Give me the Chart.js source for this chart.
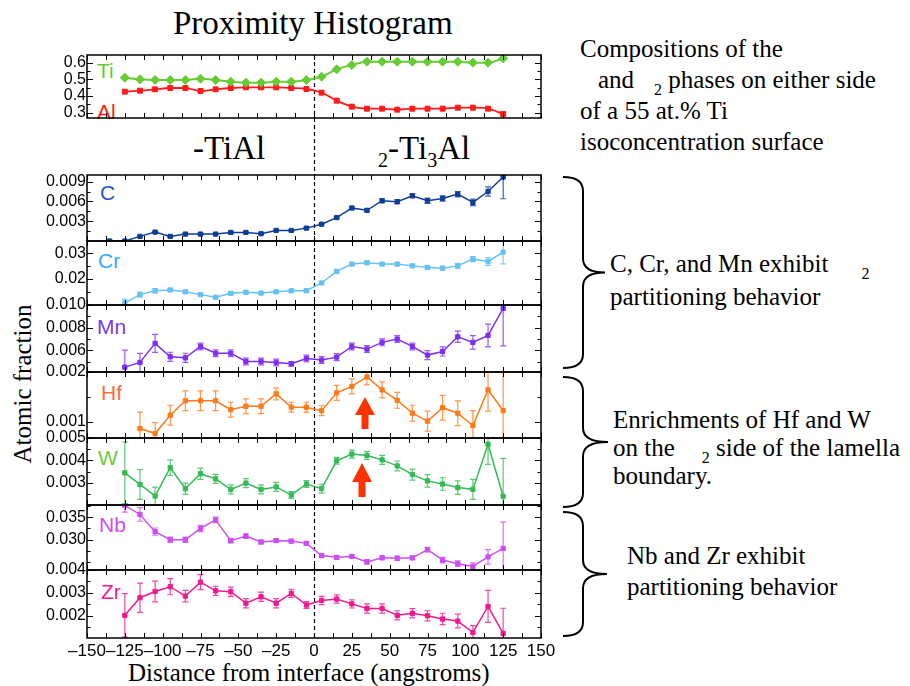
<!DOCTYPE html>
<html>
<head>
<meta charset="utf-8">
<script src="https://cdn.jsdelivr.net/npm/chart.js@4.4.1/dist/chart.umd.min.js"></script>
<style>
body { margin: 0; background: #fff; }
#wrap { position: relative; width: 910px; height: 686px; overflow: hidden; font-family: "Liberation Serif", "Times New Roman", serif; color: #000; }
canvas { position: absolute; left: 0; }
.t { position: absolute; white-space: nowrap; line-height: 1; }
.el { position: absolute; font-family: "Liberation Sans", Arial, sans-serif; font-size: 21px; line-height: 1; }
.note { position: absolute; font-size: 25px; line-height: 1; white-space: nowrap; }
.note sub { font-size: 16px; vertical-align: -7px; line-height: 0; }
.gap { display: inline-block; }
svg { position: absolute; left: 0; top: 0; }
</style>
</head>
<body>
<div id="wrap">
  <div class="t" style="left:173px;top:7px;font-size:33px">Proximity Histogram</div>
  <div class="t" style="left:193px;top:132px;font-size:33px">-TiAl</div>
  <div class="t" style="left:378px;top:132px;font-size:33px"><sub style="font-size:20px;vertical-align:-8px;line-height:0">2</sub>-Ti<sub style="font-size:20px;vertical-align:-8px;line-height:0">3</sub>Al</div>
  <div class="t" style="left:128px;top:660px;font-size:25px">Distance from interface (angstroms)</div>
  <div class="t" style="left:22px;top:384px;font-size:25px;transform:translate(-50%,-50%) rotate(-90deg)">Atomic fraction</div>

  <div class="el" style="left:97px;top:60px;color:#66cc33">Ti</div>
  <div class="el" style="left:97px;top:101px;color:#ff1a1a">Al</div>
  <div class="el" style="left:100px;top:182px;color:#1f55cc">C</div>
  <div class="el" style="left:98px;top:250px;color:#33a8f5">Cr</div>
  <div class="el" style="left:97px;top:316px;color:#7a3be6">Mn</div>
  <div class="el" style="left:101px;top:382px;color:#ff6a3d">Hf</div>
  <div class="el" style="left:98px;top:447px;color:#6ccc3c">W</div>
  <div class="el" style="left:99px;top:514px;color:#cc4ef2">Nb</div>
  <div class="el" style="left:101px;top:581px;color:#ef1a8f">Zr</div>

  <div class="note" style="left:580px;top:36px">Compositions of the</div>
  <div class="note" style="left:598px;top:67px">and<span class="gap" style="width:20px"></span><sub>2</sub> phases on either side</div>
  <div class="note" style="left:580px;top:98px">of a 55 at.% Ti</div>
  <div class="note" style="left:580px;top:129px">isoconcentration surface</div>
  <div class="note" style="left:610px;top:251px">C, Cr, and Mn exhibit<span class="gap" style="width:33px"></span><sub>2</sub></div>
  <div class="note" style="left:610px;top:284px">partitioning behavior</div>
  <div class="note" style="left:613px;top:407px">Enrichments of Hf and W</div>
  <div class="note" style="left:613px;top:435px">on the<span class="gap" style="width:27px"></span><sub>2</sub> side of the lamella</div>
  <div class="note" style="left:613px;top:463px">boundary.</div>
  <div class="note" style="left:627px;top:543px">Nb and Zr exhibit</div>
  <div class="note" style="left:627px;top:574px">partitioning behavior</div>

  <svg width="910" height="686">
    <g fill="none" stroke="#000" stroke-width="2">
      <path id="brace1"/>
      <path id="brace2"/>
      <path id="brace3"/>
    </g>
    <polygon fill="#ff3300" points="365,397 375,415 368.5,415 368.5,429 361.5,429 361.5,415 355,415"/>
    <polygon fill="#ff3300" points="362,463 372,482 365.5,482 365.5,497 358.5,497 358.5,482 352,482"/>
  </svg>
</div>

<script>
// distances of the histogram bins (angstroms)
const distances = [-125, -115, -105, -95, -85, -75, -65, -55, -45, -35, -25, -15, -5,
                   5, 15, 25, 35, 45, 55, 65, 75, 85, 95, 105, 115, 125];
const cDistances = [-135, ...distances];
const xTickStep = 25;

// series values (atomic fraction)
const tiValues = [0.51, 0.50, 0.496, 0.496, 0.496, 0.504, 0.496, 0.486, 0.48, 0.48, 0.486, 0.486, 0.496,
                  0.516, 0.56, 0.586, 0.606, 0.606, 0.606, 0.606, 0.606, 0.606, 0.606, 0.60, 0.60, 0.626];
const tiErr = [0, 0, 0, 0, 0, 0, 0, 0, 0, 0, 0, 0, 0, 0, 0, 0, 0, 0, 0, 0, 0, 0, 0, 0, 0, 0.008];
const alValues = [0.426, 0.432, 0.44, 0.448, 0.448, 0.43, 0.44, 0.448, 0.452, 0.452, 0.452, 0.448, 0.442,
                  0.42, 0.372, 0.336, 0.324, 0.324, 0.318, 0.324, 0.324, 0.324, 0.33, 0.33, 0.324, 0.292];
const alErr = [0, 0, 0, 0, 0, 0, 0, 0, 0, 0, 0, 0, 0, 0, 0, 0, 0, 0, 0, 0, 0, 0, 0, 0, 0, 0.01];

const cValues = [0.0000, 0.0000, 0.0007, 0.00135, 0.0007, 0.00105, 0.00105, 0.00105, 0.0013, 0.0013, 0.0011,
                 0.0016, 0.0016, 0.00195, 0.00255, 0.00355, 0.005, 0.00465, 0.0061, 0.00595, 0.00685,
                 0.0061, 0.00645, 0.0071, 0.00585, 0.0075, 0.0097];
const cErr = [0, 0, 0.0001, 0.0001, 0.0001, 0.0001, 0.0001, 0.0001, 0.0001, 0.0001, 0.0001, 0.0001, 0.0001,
              0.0001, 0.0001, 0.00015, 0.0002, 0.0002, 0.0003, 0.0003, 0.0003, 0.0004, 0.0004, 0.0004,
              0.0005, 0.0007, 0.0033];

const crValues = [0.0108, 0.014, 0.0155, 0.0158, 0.0151, 0.014, 0.013, 0.0145, 0.0149, 0.0146, 0.0151, 0.0155,
                  0.0155, 0.0185, 0.023, 0.0258, 0.0263, 0.0258, 0.0258, 0.0251, 0.0245, 0.0242, 0.0251,
                  0.0277, 0.0268, 0.0304];
const crErr = [0.0015, 0.001, 0.0008, 0.0006, 0.0006, 0.0005, 0.0005, 0.0006, 0.0006, 0.0005, 0.0005, 0.0005,
               0.0005, 0.0005, 0.0005, 0.0005, 0.0005, 0.0006, 0.0006, 0.0006, 0.0007, 0.0007, 0.001, 0.001,
               0.0015, 0.0045];

const mnValues = [0.00453, 0.00494, 0.00662, 0.00544, 0.00535, 0.00635, 0.00576, 0.00576, 0.00503, 0.00503,
                  0.00494, 0.00482, 0.00529, 0.00515, 0.00541, 0.00635, 0.00612, 0.00671, 0.007, 0.00635,
                  0.00559, 0.00591, 0.0072, 0.00671, 0.00732, 0.0097];
const mnErr = [0.0015, 0.0008, 0.0008, 0.0004, 0.0004, 0.0003, 0.0003, 0.0003, 0.0003, 0.0003, 0.0003, 0.0002,
               0.0003, 0.0003, 0.0003, 0.0003, 0.0003, 0.0003, 0.0003, 0.0003, 0.0004, 0.0004, 0.0005,
               0.0006, 0.001, 0.0033];

const hfValues = [null, 0.00086, 0.00076, 0.00113, 0.00142, 0.00142, 0.00142, 0.00124, 0.00131, 0.00131,
                  0.00156, 0.00129, 0.00129, 0.00122, 0.00158, 0.00171, 0.0019, 0.00164, 0.00143, 0.00117,
                  0.00101, 0.00128, 0.00117, 0.00092, 0.00164, 0.00122];
const hfErr = [null, 0.00033, 0.00022, 0.0002, 0.0002, 0.0002, 0.0002, 0.00015, 0.00015, 0.00015, 0.00012,
               0.0001, 0.0001, 0.0001, 0.00015, 0.00015, 0.00016, 0.00016, 0.00016, 0.00016, 0.0002,
               0.00025, 0.00025, 0.0003, 0.00043, 0.0008];

const wValues = [0.00344, 0.00292, 0.0024, 0.00367, 0.00273, 0.0034, 0.00317, 0.0027, 0.00298, 0.0027,
                 0.00281, 0.00245, 0.00294, 0.00273, 0.00398, 0.00428, 0.00422, 0.00402, 0.00375, 0.00336,
                 0.00308, 0.00294, 0.00278, 0.0027, 0.00472, 0.00239];
const wErr = [0.00138, 0.00067, 0.0004, 0.00035, 0.00025, 0.00025, 0.0002, 0.0002, 0.0002, 0.0002, 0.0002,
              0.00015, 0.00015, 0.0002, 0.00015, 0.00018, 0.00018, 0.0002, 0.00022, 0.00025, 0.00028,
              0.00028, 0.0003, 0.00045, 0.0009, 0.0017];

const nbValues = [0.0376, 0.0356, 0.0318, 0.030, 0.030, 0.0325, 0.0344, 0.0298, 0.0308, 0.0295, 0.0298,
                  0.0297, 0.0292, 0.0265, 0.0261, 0.0263, 0.0251, 0.026, 0.0259, 0.026, 0.0278, 0.0255,
                  0.0247, 0.0241, 0.0262, 0.0281];
const nbErr = [0.0015, 0.0015, 0.0008, 0.0006, 0.0006, 0.0007, 0.0006, 0.0005, 0.0005, 0.0004, 0.0004,
               0.0004, 0.0004, 0.0004, 0.0004, 0.0004, 0.0005, 0.0004, 0.0005, 0.0004, 0.0005, 0.0006,
               0.0006, 0.0008, 0.0016, 0.0058];

const zrValues = [0.00202, 0.00279, 0.00306, 0.00327, 0.00286, 0.00347, 0.00309, 0.00305, 0.00255, 0.00283,
                  0.00255, 0.00298, 0.00247, 0.00267, 0.00273, 0.00252, 0.00232, 0.00232, 0.00202, 0.00211,
                  0.002, 0.00186, 0.00177, 0.00127, 0.00241, 0.00123];
const zrErr = [0.00095, 0.00064, 0.00045, 0.00035, 0.00025, 0.00033, 0.0002, 0.0002, 0.0002, 0.0002, 0.0002,
               0.00018, 0.00015, 0.00018, 0.00018, 0.00018, 0.0002, 0.0002, 0.0002, 0.0002, 0.00022,
               0.00025, 0.0003, 0.0003, 0.0007, 0.0011];

// y tick values and labels per panel
const tiTicks = [0.6, 0.5, 0.4, 0.3], tiLabels = ['0.6', '0.5', '0.4', '0.3'], tiMinor = [0.55, 0.45, 0.35];
const cTicks = [0.009, 0.006, 0.003], cLabels = ['0.009', '0.006', '0.003'], cMinor = [0.0075, 0.0045, 0.0015];
const crTicks = [0.03, 0.02, 0.01], crLabels = ['0.03', '0.02', '0.010'], crMinor = [0.025, 0.015];
const mnTicks = [0.008, 0.006], mnLabels = ['0.008', '0.006'], mnMinor = [0.009, 0.007, 0.005];
const hfTicks = [0.002, 0.001], hfLabels = ['0.002', '0.001'], hfMinor = [0.0015];
const wTicks = [0.005, 0.004, 0.003], wLabels = ['0.005', '0.004', '0.003'], wMinor = [0.0045, 0.0035, 0.0025];
const nbTicks = [0.035, 0.030], nbLabels = ['0.035', '0.030'], nbMinor = [0.0375, 0.0325, 0.0275, 0.025];
const zrTicks = [0.004, 0.003, 0.002], zrLabels = ['0.004', '0.003', '0.002'], zrMinor = [0.0035, 0.0025, 0.0015];

Chart.defaults.font.family = '"Liberation Sans", Arial, sans-serif';
Chart.defaults.color = '#000';

const panels = [
    { top: 55, bottom: 118, min: 0.268, max: 0.646, ticks: tiTicks, labels: tiLabels, minor: tiMinor, dashExtra: 57,
      series: [
          { x: distances, y: tiValues, err: tiErr, color: '#66cc33', style: 'rectRot', r: 4.5, w: 2, smooth: true },
          { x: distances, y: alValues, err: alErr, color: '#ff1a1a', style: 'rect', r: 3.5, w: 1.8, smooth: true }
      ] },
    { top: 175, bottom: 241, min: 0, max: 0.010, ticks: cTicks, labels: cLabels, minor: cMinor,
      series: [{ x: cDistances, y: cValues, err: cErr, color: '#0f3d99' }] },
    { top: 241, bottom: 305, min: 0.010, max: 0.0347, ticks: crTicks, labels: crLabels, minor: crMinor,
      series: [{ x: distances, y: crValues, err: crErr, color: '#66c2f2' }] },
    { top: 305, bottom: 372, min: 0.0041, max: 0.010, ticks: mnTicks, labels: mnLabels, minor: mnMinor,
      series: [{ x: distances, y: mnValues, err: mnErr, color: '#7f2ff5' }] },
    { top: 372, bottom: 438, min: 0.00067, max: 0.002, ticks: hfTicks, labels: hfLabels, minor: hfMinor,
      series: [{ x: distances, y: hfValues, err: hfErr, color: '#ff7a1a' }] },
    { top: 438, bottom: 505, min: 0.002, max: 0.005, ticks: wTicks, labels: wLabels, minor: wMinor,
      series: [{ x: distances, y: wValues, err: wErr, color: '#33bb55' }] },
    { top: 505, bottom: 570, min: 0.0233, max: 0.0377, ticks: nbTicks, labels: nbLabels, minor: nbMinor,
      series: [{ x: distances, y: nbValues, err: nbErr, color: '#cc4ef2' }] },
    { top: 570, bottom: 638, min: 0.00103, max: 0.004, ticks: zrTicks, labels: zrLabels, minor: zrMinor, axis: true,
      series: [{ x: distances, y: zrValues, err: zrErr, color: '#ef1a8f' }] }
];

// frame, inward tick marks, dashed interface line and error bars
const panelPlugin = {
    id: 'panel',
    beforeDatasetsDraw(chart) {
        const { ctx, chartArea: a, scales: { x, y } } = chart;
        const p = chart.$panel;
        ctx.save();
        ctx.strokeStyle = '#000';
        ctx.lineWidth = 1.2;
        ctx.setLineDash([4, 3]);
        const zx = Math.round(x.getPixelForValue(0)) + 0.5;
        ctx.beginPath();
        ctx.moveTo(zx, a.top);
        ctx.lineTo(zx, a.bottom + (p.dashExtra || 0));
        ctx.stroke();
        ctx.restore();

        ctx.save();
        ctx.beginPath();
        ctx.rect(a.left, a.top, a.width, a.height);
        ctx.clip();
        ctx.lineWidth = 1.2;
        ctx.globalAlpha = 0.8;
        chart.data.datasets.forEach(ds => {
            ctx.strokeStyle = ds.borderColor;
            ds.errorBars.forEach((e, i) => {
                const pt = ds.data[i];
                if (!e || pt.y == null) return;
                const px = x.getPixelForValue(pt.x);
                const y1 = y.getPixelForValue(pt.y - e);
                const y2 = y.getPixelForValue(pt.y + e);
                ctx.beginPath();
                ctx.moveTo(px, y1); ctx.lineTo(px, y2);
                ctx.moveTo(px - 3, y1); ctx.lineTo(px + 3, y1);
                ctx.moveTo(px - 3, y2); ctx.lineTo(px + 3, y2);
                ctx.stroke();
            });
        });
        ctx.restore();
    },
    afterDatasetsDraw(chart) {
        const { ctx, chartArea: a, scales: { x, y } } = chart;
        const p = chart.$panel;
        ctx.save();
        ctx.strokeStyle = '#000';
        ctx.lineWidth = 1;
        ctx.beginPath();
        for (let v = -150; v <= 150; v += xTickStep / 2) {
            const px = Math.round(x.getPixelForValue(v)) + 0.5;
            ctx.moveTo(px, a.top); ctx.lineTo(px, a.top + 5);
            ctx.moveTo(px, a.bottom); ctx.lineTo(px, a.bottom - 5);
        }
        const yTick = (v, len) => {
            const py = Math.round(y.getPixelForValue(v)) + 0.5;
            ctx.moveTo(a.left, py); ctx.lineTo(a.left + len, py);
            ctx.moveTo(a.right, py); ctx.lineTo(a.right - len, py);
        };
        p.ticks.forEach(v => yTick(v, 6));
        p.minor.forEach(v => yTick(v, 3.5));
        ctx.stroke();
        ctx.lineWidth = 1.5;
        ctx.strokeRect(a.left, a.top, a.width, a.height);
        ctx.restore();
    }
};

const wrap = document.getElementById('wrap');
panels.forEach(p => {
    const padTop = 12;
    const areaH = p.bottom - p.top;
    let padBottom = 12;
    if (p.dashExtra) padBottom = p.dashExtra + 2;
    if (p.axis) padBottom = 4;
    const axisH = p.axis ? 24 : 0;
    const canvas = document.createElement('canvas');
    canvas.width = 560;
    canvas.height = padTop + areaH + axisH + padBottom;
    canvas.style.top = (p.top - padTop) + 'px';
    wrap.insertBefore(canvas, wrap.querySelector('svg'));

    const datasets = p.series.map(s => ({
        data: s.x.map((d, i) => ({ x: d, y: s.y[i] })),
        errorBars: s.err,
        borderColor: s.color,
        backgroundColor: s.color,
        borderWidth: s.w || 1.5,
        pointStyle: s.style || 'rect',
        pointRadius: s.r || 3,
        pointBorderWidth: 1,
        pointBackgroundColor: s.color,
        pointBorderColor: s.color,
        cubicInterpolationMode: s.smooth ? 'monotone' : 'default',
        tension: 0,
        fill: false
    }));

    new Chart(canvas, {
        type: 'line',
        data: { datasets },
        options: {
            responsive: false,
            animation: false,
            devicePixelRatio: 1,
            layout: { padding: { top: padTop, bottom: padBottom, left: 0, right: 19 } },
            plugins: { legend: { display: false }, tooltip: { enabled: false } },
            scales: {
                x: {
                    type: 'linear', min: -150, max: 150, display: !!p.axis,
                    afterFit: s => { s.height = axisH; },
                    ticks: {
                        stepSize: xTickStep, autoSkip: false, maxRotation: 0, padding: 3,
                        font: { size: 17 }, color: '#000',
                        callback: v => (v < 0 ? '\u2013' + Math.abs(v) : String(v))
                    },
                    grid: { display: false, drawTicks: false },
                    border: { display: false }
                },
                y: {
                    type: 'linear', min: p.min, max: p.max,
                    afterBuildTicks: s => { s.ticks = p.ticks.map(v => ({ value: v })); },
                    afterFit: s => { s.width = 87; },
                    ticks: { autoSkip: false, padding: 1, font: { size: 16 }, color: '#000',
                             callback: (v, i) => p.labels[i] },
                    grid: { display: false, drawTicks: false },
                    border: { display: false }
                }
            }
        },
        plugins: [{ id: 'attach', beforeInit: c => { c.$panel = p; } }, panelPlugin]
    });
});

// curly braces on the right
function bracePath(x0, xm, xt, y0, y1) {
    const ym = (y0 + y1) / 2, r = 14;
    return `M${x0},${y0} Q${xm},${y0} ${xm},${y0 + r} L${xm},${ym - r} Q${xm},${ym} ${xt},${ym} ` +
           `Q${xm},${ym} ${xm},${ym + r} L${xm},${y1 - r} Q${xm},${y1} ${x0},${y1}`;
}
document.getElementById('brace1').setAttribute('d', bracePath(563, 583, 605, 177, 368));
document.getElementById('brace2').setAttribute('d', bracePath(563, 583, 608, 377, 507));
document.getElementById('brace3').setAttribute('d', bracePath(563, 583, 607, 512, 636));
</script>
</body>
</html>
